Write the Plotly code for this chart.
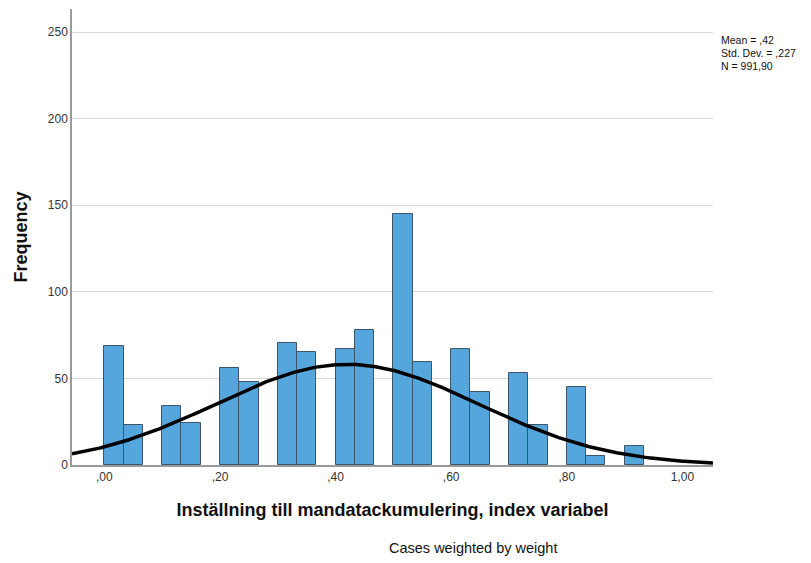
import numpy as np
import plotly.graph_objects as go

# Histogram bins (left edges) and weighted frequencies
bin_left = [0.0, 1/30, 0.1, 0.1 + 1/30, 0.2, 0.2 + 1/30, 0.3, 0.3 + 1/30,
            0.4, 0.4 + 1/30, 0.5, 0.5 + 1/30, 0.6, 0.6 + 1/30, 0.7, 0.7 + 1/30,
            0.8, 0.8 + 1/30, 0.9]
counts = [69, 23, 34, 24, 56, 48, 70.4, 65.2, 67, 78, 145, 59.5, 67, 42, 53, 23, 45, 5.4, 11]
bin_width = 1 / 30

# Summary statistics shown in the chart
mean = 0.42
std_dev = 0.227
n_total = 991.90

x_tickvals = [0, 0.2, 0.4, 0.6, 0.8, 1.0]
x_ticktext = [",00", ",20", ",40", ",60", ",80", "1,00"]
y_tickvals = [0, 50, 100, 150, 200, 250]

x_range = [-0.056, 1.053]
y_range = [0, 263.3]

centers = [b + bin_width / 2 for b in bin_left]

# Normal curve scaled to the histogram
xc = np.linspace(x_range[0], x_range[1], 400)
yc = n_total * bin_width / (std_dev * np.sqrt(2 * np.pi)) * np.exp(-0.5 * ((xc - mean) / std_dev) ** 2)

fig = go.Figure()
fig.add_trace(go.Bar(
    x=centers, y=counts, width=bin_width,
    marker=dict(color="#55a6dd", line=dict(color="#3d5566", width=1)),
    hoverinfo="skip",
))
fig.add_trace(go.Scatter(
    x=xc, y=yc, mode="lines",
    line=dict(color="black", width=3.5),
    hoverinfo="skip",
))

font_family = "Liberation Sans, Arial, sans-serif"

# page body has an 8px margin; compensate so plot area sits at x 72..713, y 9..465
W, H = 803, 555
ML, MR, MT, MB = 64, 98, 1, 98
plot_w = W - ML - MR
plot_h = H - MT - MB

fig.update_layout(
    width=W, height=H,
    margin=dict(l=ML, r=MR, t=MT, b=MB, autoexpand=False),
    paper_bgcolor="white", plot_bgcolor="white",
    showlegend=False,
    font=dict(family=font_family, color="#222222"),
    bargap=0,
    xaxis=dict(
        range=x_range, tickvals=x_tickvals, ticktext=x_ticktext,
        showgrid=False, zeroline=False,
        showline=True, linecolor="#9a9a9a", linewidth=1.5,
        ticks="", tickfont=dict(size=12, color="#333333"),
        title=dict(text="<b>Inställning till mandatackumulering, index variabel</b>",
                   font=dict(size=18, color="#111111"), standoff=20),
    ),
    yaxis=dict(
        range=y_range, tickvals=y_tickvals,
        showgrid=True, gridcolor="#d9d9d9", gridwidth=1,
        zeroline=False,
        showline=True, linecolor="#9a9a9a", linewidth=1.5,
        ticks="", ticklen=0, tickfont=dict(size=12, color="#333333"),
        title=dict(text="<b>Frequency</b>", font=dict(size=18, color="#111111"), standoff=16),
    ),
)

# screen-pixel helpers (screen coords include the 8px body offset)
def px_x(sx):
    return (sx - 8 - ML) / plot_w

def px_y(sy):
    return (H - MB - (sy - 8)) / plot_h

stats_lines = ["Mean = ,42", "Std. Dev. = ,227", "N = 991,90"]
for i, line in enumerate(stats_lines):
    fig.add_annotation(
        xref="paper", yref="paper", x=px_x(719), y=px_y(32 + i * 13),
        text=line, showarrow=False, xanchor="left", yanchor="top",
        font=dict(size=10.5, color="#111111", family=font_family),
    )

fig.add_annotation(
    xref="paper", yref="paper", x=px_x(473), y=px_y(548),
    text="Cases weighted by weight", showarrow=False, xanchor="center", yanchor="middle",
    font=dict(size=14.5, color="#111111", family=font_family),
)

fig.write_html("out.html")
